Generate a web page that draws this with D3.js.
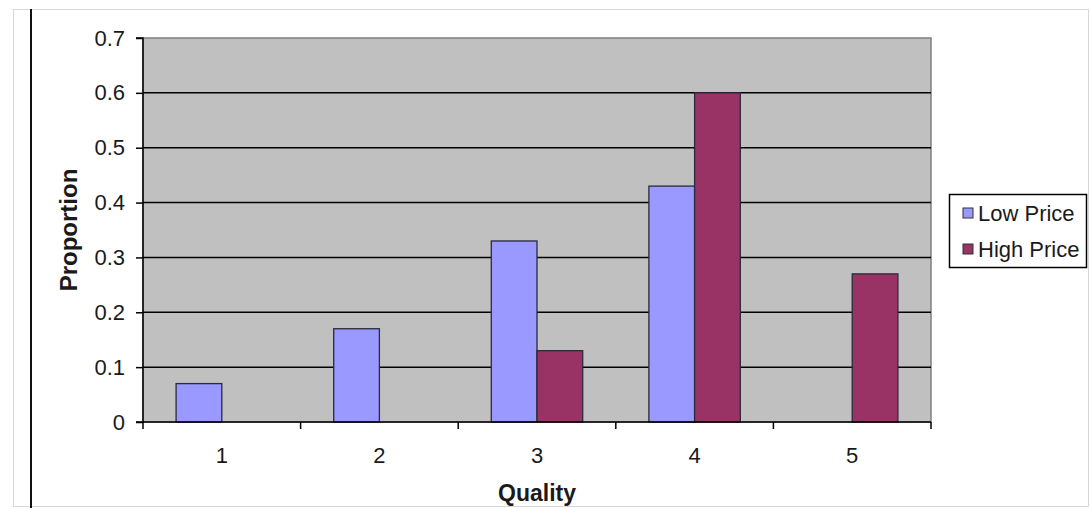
<!DOCTYPE html>
<html><head><meta charset="utf-8">
<script src="https://cdn.jsdelivr.net/npm/d3@7"></script>
<style>body{margin:0;background:#fff}svg{display:block}text{font-family:"Liberation Sans",Arial,sans-serif}</style>
</head><body>
<svg id="c" width="1091" height="508"></svg>
<script>
const categories = ["1","2","3","4","5"];
const seriesNames = ["Low Price","High Price"];
const lowPrice = [0.07,0.17,0.33,0.43,0];
const highPrice = [0,0,0.13,0.6,0.27];
const yTicks = [0,0.1,0.2,0.3,0.4,0.5,0.6,0.7];
const colors = ["#9999FF","#993366"];

const svg = d3.select("#c");
// frame
svg.append("rect").attr("x",13.5).attr("y",9.5).attr("width",1075).attr("height",497).attr("fill","none").attr("stroke","#d8d8d8");
svg.append("line").attr("x1",31).attr("x2",31).attr("y1",9).attr("y2",508).attr("stroke","#111").attr("stroke-width",2);

const L=143,R=931,T=38,B=422;
const x0 = d3.scaleBand().domain(categories).range([L,R]).padding(0);
const y = d3.scaleLinear().domain([0,0.7]).range([B,T]);
const bw = x0.bandwidth()*0.29;
const x1 = d3.scaleBand().domain(seriesNames).range([-bw, bw]).padding(0);

svg.append("rect").attr("x",L).attr("y",T).attr("width",R-L).attr("height",B-T).attr("fill","#C0C0C0").attr("stroke","#808080").attr("stroke-width",1.5);
// gridlines
svg.append("g").selectAll("line").data(yTicks.filter(d=>d>0&&d<0.7)).join("line")
  .attr("x1",L).attr("x2",R).attr("y1",d=>y(d)).attr("y2",d=>y(d)).attr("stroke","#000").attr("stroke-width",1.5);

const data = [lowPrice, highPrice];
const g = svg.append("g");
categories.forEach((c,i)=>{
  seriesNames.forEach((s,j)=>{
    const v = data[j][i];
    if(v<=0) return;
    const cx = x0(c)+x0.bandwidth()/2;
    g.append("rect").attr("x",cx+x1(s)).attr("width",x1.bandwidth())
      .attr("y",y(v)).attr("height",B-y(v)).attr("fill",colors[j]).attr("stroke","#2a2a3a").attr("stroke-width",1.3);
  });
});

// y axis
const ya = svg.append("g").attr("transform",`translate(${L},0)`)
  .call(d3.axisLeft(y).tickValues(yTicks).tickFormat(d=>d===0?"0":String(d)).tickSize(7).tickPadding(11));
ya.select(".domain").attr("stroke","#000").attr("stroke-width",1.5).attr("d",`M-7,${T}H0V${B}H-7`);
ya.selectAll(".tick line").attr("stroke","#000").attr("stroke-width",1.5);
ya.selectAll(".tick text").attr("font-size",22).attr("fill","#1a1a1a").attr("font-family","Liberation Sans, Arial, sans-serif");

// x axis
const xa = svg.append("g").attr("transform",`translate(0,${B})`);
xa.append("line").attr("x1",L).attr("x2",R).attr("stroke","#000").attr("stroke-width",1.5);
const bounds = categories.map(c=>x0(c)).concat([R]);
xa.selectAll(".xt").data(bounds).join("line").attr("x1",d=>d).attr("x2",d=>d).attr("y1",0).attr("y2",7).attr("stroke","#000").attr("stroke-width",1.5);
xa.selectAll(".xl").data(categories).join("text").attr("x",d=>x0(d)+x0.bandwidth()/2).attr("y",41)
  .attr("text-anchor","middle").attr("font-size",22).attr("fill","#1a1a1a").text(d=>d);

svg.append("text").attr("x",(L+R)/2).attr("y",501).attr("text-anchor","middle").attr("font-size",23).attr("font-weight","bold").attr("fill","#1a1a1a").text("Quality");
svg.append("text").attr("transform",`translate(77,${(T+B)/2}) rotate(-90)`).attr("text-anchor","middle").attr("font-size",24).attr("font-weight","bold").attr("fill","#1a1a1a").text("Proportion");

// legend
const lg = svg.append("g");
lg.append("rect").attr("x",949.5).attr("y",194.5).attr("width",137).attr("height",73).attr("fill","#fff").attr("stroke","#000").attr("stroke-width",1.5);
seriesNames.forEach((s,j)=>{
  const cy = 213 + j*36;
  lg.append("rect").attr("x",963).attr("y",cy-5).attr("width",10).attr("height",10).attr("fill",colors[j]).attr("stroke","#333");
  lg.append("text").attr("x",978).attr("y",cy+7.5).attr("font-size",22).attr("fill","#1a1a1a").text(s);
});
</script>
</body></html>
